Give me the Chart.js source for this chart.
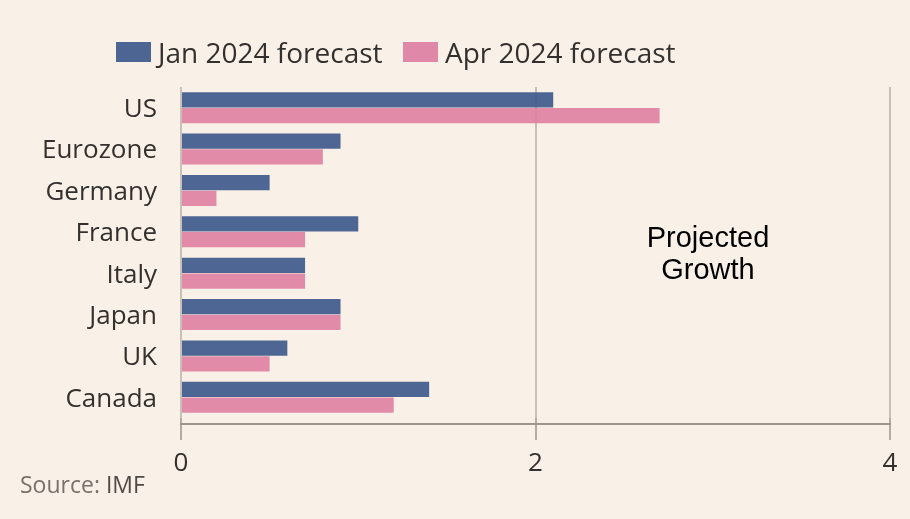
<!DOCTYPE html>
<html>
<head>
<meta charset="utf-8">
<script src="https://cdn.jsdelivr.net/npm/chart.js@4"></script>
<style>
  body { margin: 0; background: #f9f1e7; }
  #wrap { position: relative; width: 910px; height: 519px; background: #f9f1e7; font-family: "Open Sans", sans-serif; color: #33302e; }
  #chart { position: absolute; left: 0; top: 0; }
  .legend { position: absolute; top: 34px; height: 36px; display: flex; align-items: center; font-size: 28px; }
  .legend .box { width: 35px; height: 20px; margin-right: 7px; }
  #source { position: absolute; left: 20px; top: 468px; font-size: 23px; color: #77716c; }
  #source span { color: #4f4a46; }
</style>
</head>
<body>
<div id="wrap">
  <canvas id="chart" width="910" height="519"></canvas>
  <div class="legend" style="left:116px"><div class="box" style="background:#4d6593"></div>Jan 2024 forecast</div>
  <div class="legend" style="left:403px"><div class="box" style="background:#e088a8"></div>Apr 2024 forecast</div>
  <div id="source">Source: <span>IMF</span></div>
</div>
<script>
// data
const countries = ["US", "Eurozone", "Germany", "France", "Italy", "Japan", "UK", "Canada"];
const janForecast = [2.1, 0.9, 0.5, 1.0, 0.7, 0.9, 0.6, 1.4];
const aprForecast = [2.7, 0.8, 0.2, 0.7, 0.7, 0.9, 0.5, 1.2];
const xTicks = [0, 2, 4];

// "Projected Growth" note + the x axis line sitting a little below the bars
const extrasPlugin = {
    id: "extras",
    afterDraw(chart) {
        const ctx = chart.ctx;
        const x = chart.scales.x;
        ctx.save();
        ctx.strokeStyle = "#9d9792";
        ctx.lineWidth = 2;
        ctx.beginPath();
        ctx.moveTo(x.left - 1, chart.chartArea.bottom + 6);
        ctx.lineTo(x.right + 1, chart.chartArea.bottom + 6);
        ctx.stroke();

        ctx.font = "29px 'Liberation Sans', Arial, sans-serif";
        ctx.fillStyle = "#000";
        ctx.textAlign = "center";
        ctx.textBaseline = "alphabetic";
        ctx.fillText("Projected", 708, 247);
        ctx.fillText("Growth", 708, 279);
        ctx.restore();
    }
};

new Chart(document.getElementById("chart"), {
    type: "bar",
    data: {
        labels: countries,
        datasets: [
            {
                label: "Jan 2024 forecast",
                data: janForecast,
                backgroundColor: "rgba(58,86,138,0.9)",
                categoryPercentage: 0.76,
                barPercentage: 0.97
            },
            {
                label: "Apr 2024 forecast",
                data: aprForecast,
                backgroundColor: "rgba(223,127,162,0.9)",
                categoryPercentage: 0.76,
                barPercentage: 0.97
            }
        ]
    },
    options: {
        indexAxis: "y",
        responsive: false,
        animation: false,
        layout: { padding: { top: 87, right: 20, left: 0, bottom: 0 } },
        plugins: {
            legend: { display: false },
            tooltip: { enabled: false }
        },
        scales: {
            x: {
                min: 0,
                max: 4,
                afterBuildTicks: (scale) => { scale.ticks = xTicks.map(v => ({ value: v })); },
                afterFit: (scale) => { scale.height = 101; },
                grid: { color: "#c9c0b7", lineWidth: 2, tickLength: 22, tickColor: "#b3aca5" },
                border: { display: false },
                ticks: {
                    color: "#33302e",
                    padding: 8,
                    font: { family: "Open Sans", size: 26 }
                }
            },
            y: {
                afterFit: (scale) => { scale.width = 181; },
                grid: { display: false },
                border: { display: false },
                ticks: {
                    color: "#33302e",
                    padding: 16,
                    labelOffset: 2,
                    font: { family: "Open Sans", size: 26 }
                }
            }
        }
    },
    plugins: [extrasPlugin]
});
</script>
</body>
</html>
